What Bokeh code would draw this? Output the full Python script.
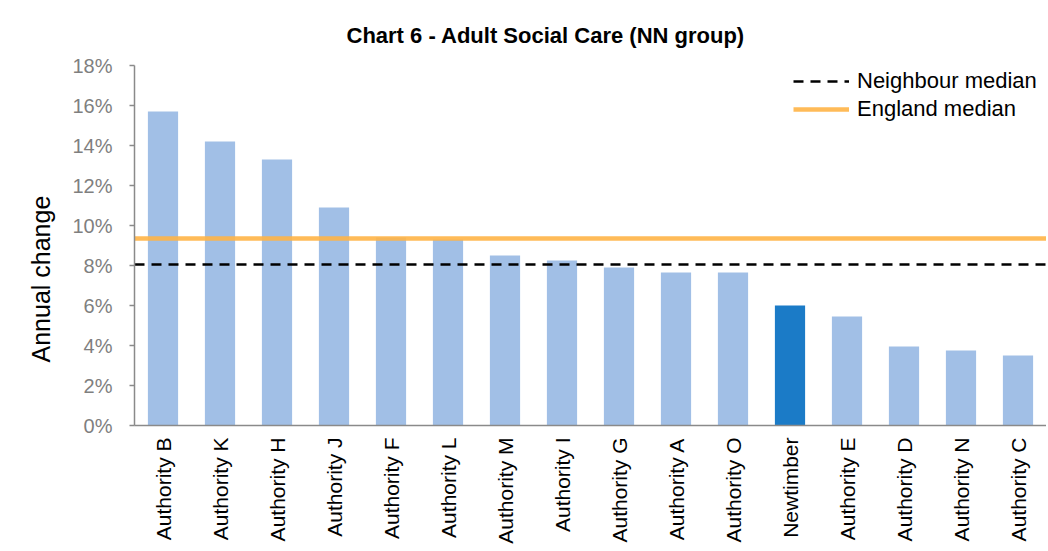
import math
from bokeh.plotting import figure
from bokeh.models import (FactorRange, Range1d, FixedTicker, PrintfTickFormatter,
                          ColumnDataSource, Legend, LegendItem, Title)
from bokeh.embed import file_html
from bokeh.resources import INLINE

categories = ["Authority B", "Authority K", "Authority H", "Authority J", "Authority F",
              "Authority L", "Authority M", "Authority I", "Authority G", "Authority A",
              "Authority O", "Newtimber", "Authority E", "Authority D", "Authority N",
              "Authority C"]
annual_change = [15.7, 14.2, 13.3, 10.9, 9.4, 9.3, 8.5, 8.25, 7.9, 7.65, 7.65,
                 6.0, 5.45, 3.95, 3.75, 3.5]
highlight = "Newtimber"
neighbour_median = 8.05
england_median = 9.35
y_ticks = [0, 2, 4, 6, 8, 10, 12, 14, 16, 18]

FONT = "Liberation Sans"
LIGHT = "#A1BFE6"
DARK = "#1B7BC7"
GREY = "#8A8A8A"

colors = [DARK if c == highlight else LIGHT for c in categories]
src = ColumnDataSource(dict(cat=categories, val=annual_change, color=colors))

p = figure(width=1046, height=549, output_backend="svg", toolbar_location=None,
           x_range=FactorRange(*categories, range_padding=0),
           y_range=Range1d(0, 18))
p.min_border_left = 134
p.min_border_right = 0
p.min_border_top = 65
p.min_border_bottom = 124
p.outline_line_color = None
p.grid.grid_line_color = None

p.title.text = "Chart 6 - Adult Social Care (NN group)"
p.title.text_font = FONT
p.title.text_font_size = "22px"
p.title.text_font_style = "bold"
p.title.text_color = "#000000"
p.title.align = "left"
p.title.offset = 212
p.title.standoff = 36

p.vbar(x="cat", top="val", width=0.53, color="color", source=src, line_color=None)

# full-width horizontal lines: first factor's left edge to last factor's right edge
line_x = [(categories[0], -0.5), (categories[-1], 0.5)]
r_nb = p.line(x=line_x, y=[neighbour_median] * 2,
              line_color="black", line_width=2.5, line_dash="10 7")
r_en = p.line(x=line_x, y=[england_median] * 2,
              line_color="#FFB446", line_width=4.5, line_alpha=0.9)

legend = Legend(items=[LegendItem(label="Neighbour median", renderers=[r_nb]),
                       LegendItem(label="England median", renderers=[r_en])],
                location=(659, 302))
legend.label_text_font = FONT
legend.label_text_font_size = "22px"
legend.label_text_color = "#000000"
legend.glyph_width = 56
legend.glyph_height = 28
legend.label_height = 28
legend.label_standoff = 8
legend.spacing = 0
legend.padding = 0
legend.margin = 0
legend.border_line_alpha = 0
legend.background_fill_alpha = 0
p.add_layout(legend, "center")

ya = p.yaxis[0]
ya.ticker = FixedTicker(ticks=y_ticks)
ya.formatter = PrintfTickFormatter(format="%d%%")
ya.major_label_text_font = FONT
ya.major_label_text_font_size = "20px"
ya.major_label_text_color = "#7F7F7F"
ya.major_label_standoff = 17
ya.axis_line_color = GREY
ya.axis_line_width = 1.5
ya.major_tick_line_color = GREY
ya.major_tick_line_width = 1.5
ya.major_tick_out = 5
ya.major_tick_in = 0
ya.minor_tick_line_color = None

ylabel = Title(text="Annual change", align="left", offset=63, standoff=30,
               text_font=FONT, text_font_size="25px", text_font_style="normal",
               text_color="#000000")
p.add_layout(ylabel, "left")

xa = p.xaxis[0]
xa.major_label_orientation = math.pi / 2
xa.major_label_text_font = FONT
xa.major_label_text_font_size = "21px"
xa.major_label_text_color = "#000000"
xa.major_label_standoff = 6
xa.axis_line_color = GREY
xa.axis_line_width = 1.5
xa.major_tick_line_color = None
xa.minor_tick_line_color = None

open("out.html", "w").write(file_html(p, INLINE))
